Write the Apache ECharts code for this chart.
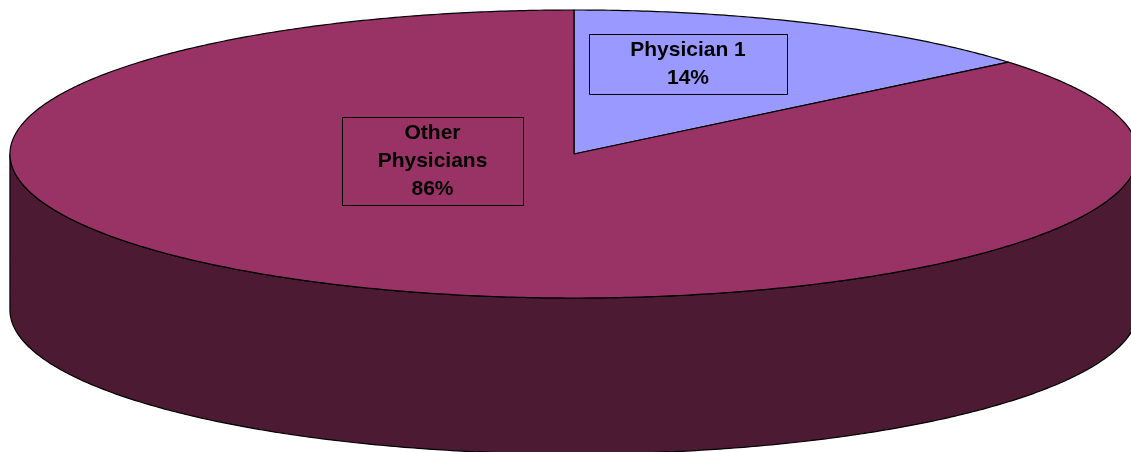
<!DOCTYPE html>
<html>
<head>
<meta charset="utf-8">
<script src="https://cdn.jsdelivr.net/npm/echarts@6/dist/echarts.min.js"></script>
<style>
  html, body { margin: 0; padding: 0; background: #ffffff; }
  #chart { width: 1131px; height: 452px; }
</style>
</head>
<body>
<div id="chart"></div>
<script>
// Share of cases by physician
const categories = ['Physician 1', 'Other Physicians'];
const shares = [14, 86];

// Styling
const topColors = ['#9999FF', '#993366'];
const sideColors = ['#4C4C80', '#4C1A33'];

// Cylinder geometry as fractions of the chart box (like a pie's center/radius)
const disc = { cx: 0.5075, cy: 0.3407, rx: 0.4987, ry: 0.3186, depth: 0.345 };

// Label boxes: centre (fraction of width/height), box size in px, name wrapping
const labelBoxes = [
  { x: 0.6083, y: 0.1416, w: 198, h: 60, wrap: false },
  { x: 0.3824, y: 0.3562, w: 181, h: 88, wrap: true }
];

const total = shares.reduce((a, b) => a + b, 0);
const startAngles = [];
(function () {
  let acc = 0;
  shares.forEach(v => { startAngles.push(acc / total * Math.PI * 2); acc += v; });
})();

// Points along the ellipse; angle measured clockwise from 12 o'clock
function arcPoints(cx, cy, rx, ry, a0, a1, dy) {
  const pts = [];
  const n = Math.max(2, Math.ceil(Math.abs(a1 - a0) / (Math.PI / 360)));
  for (let i = 0; i <= n; i++) {
    const t = a0 + (a1 - a0) * i / n;
    pts.push([cx + rx * Math.sin(t), cy - ry * Math.cos(t) + dy]);
  }
  return pts;
}

function geom(api) {
  const W = api.getWidth(), H = api.getHeight();
  return { cx: disc.cx * W, cy: disc.cy * H, rx: disc.rx * W, ry: disc.ry * H, d: disc.depth * H, W, H };
}

function sliceRange(idx, api) {
  const s = startAngles[idx];
  const e = s + api.value(1) / total * Math.PI * 2;
  return [s, e];
}

// Front wall of each slice (only the half facing the viewer)
function renderSide(params, api) {
  const g = geom(api);
  const [s, e] = sliceRange(params.dataIndex, api);
  const lo = Math.max(s, Math.PI / 2), hi = Math.min(e, Math.PI * 1.5);
  if (lo >= hi) return null;
  const top = arcPoints(g.cx, g.cy, g.rx, g.ry, lo, hi, 0);
  const bottom = arcPoints(g.cx, g.cy, g.rx, g.ry, hi, lo, g.d);
  return {
    type: 'polygon',
    shape: { points: top.concat(bottom) },
    style: { fill: sideColors[params.dataIndex], stroke: '#000', lineWidth: 1.2 }
  };
}

// Top face of each slice plus its boxed label
function renderTop(params, api) {
  const g = geom(api);
  const i = params.dataIndex;
  const [s, e] = sliceRange(i, api);
  const pts = [[g.cx, g.cy]].concat(arcPoints(g.cx, g.cy, g.rx, g.ry, s, e, 0));
  const box = labelBoxes[i];
  const bx = box.x * g.W, by = box.y * g.H;
  const name = categories[i];
  const pct = Math.round(api.value(1) / total * 100) + '%';
  const text = (box.wrap ? name.replace(' ', '\n') : name) + '\n' + pct;
  return {
    type: 'group',
    children: [
      {
        type: 'polygon',
        shape: { points: pts },
        style: { fill: topColors[i], stroke: '#000', lineWidth: 1.2, lineJoin: 'round' }
      },
      {
        type: 'rect',
        shape: { x: Math.round(bx - box.w / 2) + 0.5, y: Math.round(by - box.h / 2) + 0.5, width: box.w, height: box.h },
        style: { fill: 'none', stroke: '#000', lineWidth: 1 }
      },
      {
        type: 'text',
        x: bx, y: by,
        style: {
          text: text,
          fill: '#000',
          fontSize: 21,
          fontWeight: 'bold',
          fontFamily: '"Liberation Sans", Arial, sans-serif',
          lineHeight: 28,
          align: 'center',
          verticalAlign: 'middle'
        }
      }
    ]
  };
}

const seriesData = categories.map((c, k) => [k, shares[k]]);

const chart = echarts.init(document.getElementById('chart'), null, { renderer: 'canvas' });
chart.setOption({
  animation: false,
  backgroundColor: '#ffffff',
  series: [
    { type: 'custom', coordinateSystem: 'none', z: 1, silent: true, data: seriesData, renderItem: renderSide },
    { type: 'custom', coordinateSystem: 'none', z: 2, silent: true, data: seriesData, renderItem: renderTop }
  ]
});
</script>
</body>
</html>
